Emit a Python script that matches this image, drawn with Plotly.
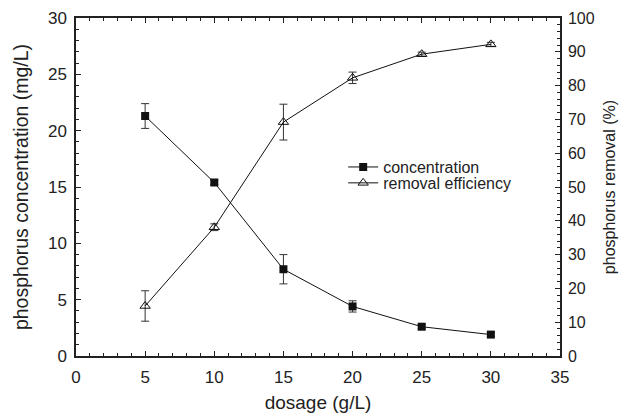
import plotly.graph_objects as go

dosage = [5, 10, 15, 20, 25, 30]
concentration = [21.3, 15.4, 7.7, 4.4, 2.6, 1.9]
concentration_err = [1.1, 0.2, 1.3, 0.5, 0.2, 0.2]
removal = [14.8, 38.1, 69.2, 82.3, 89.3, 92.2]
removal_err = [4.5, 1.0, 5.3, 1.7, 0.6, 0.6]

font = "Liberation Sans, Arial, sans-serif"
ink = "#222"

fig = go.Figure()
fig.add_trace(go.Scatter(
    x=dosage, y=concentration, name="concentration", mode="lines+markers",
    line=dict(color="#111", width=1),
    marker=dict(symbol="square", size=8, color="#111"),
    error_y=dict(type="data", array=concentration_err, color="#333", thickness=1, width=4),
    legend="legend",
))
fig.add_trace(go.Scatter(
    x=dosage, y=removal, name="removal efficiency", mode="lines+markers", yaxis="y2",
    line=dict(color="#111", width=1),
    marker=dict(symbol="triangle-up-open", size=9, color="#111", line=dict(width=1)),
    error_y=dict(type="data", array=removal_err, color="#333", thickness=1, width=4),
    legend="legend2",
))

def axis_common(size):
    return dict(
        showgrid=False, zeroline=False, showline=True, linecolor=ink, linewidth=1.5,
        ticks="inside", ticklen=5, tickwidth=1, tickcolor=ink, automargin=False,
        tickfont=dict(family=font, size=size, color=ink),
        minor=dict(ticks="inside", ticklen=3, tickcolor=ink),
    )

legend_style = dict(xanchor="left", yanchor="middle", bgcolor="rgba(0,0,0,0)",
                    font=dict(family=font, size=16, color=ink))

fig.update_layout(
    width=626, height=418,
    margin=dict(l=76, r=66, t=18, b=62),
    plot_bgcolor="white", paper_bgcolor="white",
    font=dict(family=font, color=ink),
    xaxis=dict(range=[0, 35], dtick=5, mirror="ticks", ticklabelstandoff=5,
               title=dict(text="dosage (g/L)", font=dict(family=font, size=19), standoff=10),
               **axis_common(17)),
    yaxis=dict(range=[0, 30], dtick=5, ticklabelstandoff=4,
               title=dict(text="phosphorus concentration (mg/L)", font=dict(family=font, size=19.5), standoff=14),
               **axis_common(17)),
    yaxis2=dict(range=[0, 100], dtick=10, overlaying="y", side="right", ticklabelstandoff=3,
                title=dict(text="phosphorus removal (%)", font=dict(family=font, size=16), standoff=10),
                **axis_common(16)),
    legend=dict(x=0.552, y=0.559, **legend_style),
    legend2=dict(x=0.552, y=0.512, **legend_style),
    showlegend=True,
)

fig.write_html("out.html")
